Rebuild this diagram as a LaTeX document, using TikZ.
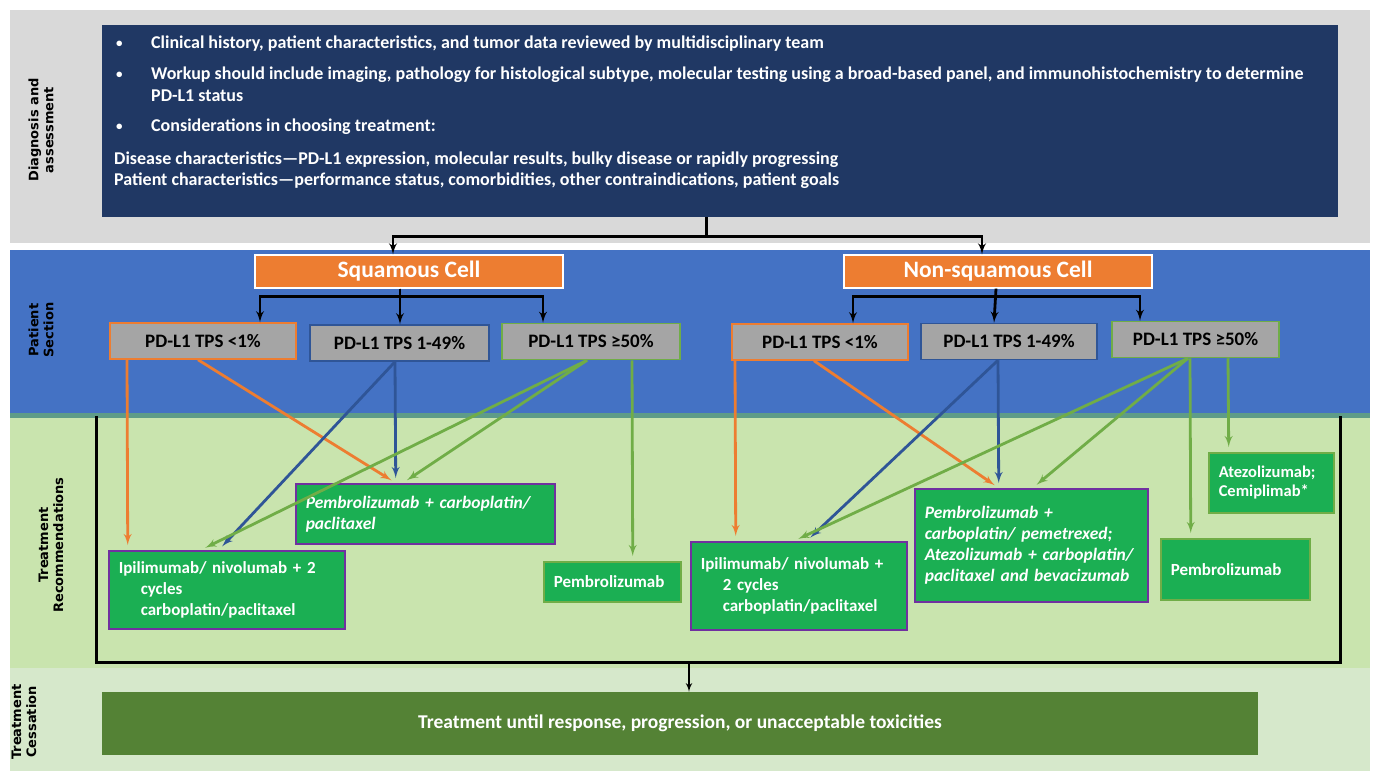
\documentclass[tikz,border=0pt]{standalone}
\usepackage{fontspec}
\setmainfont{Carlito}
\newfontfamily\bandfont{DejaVu Sans}
\usetikzlibrary{shapes,arrows,calc}
\definecolor{bandgray}{HTML}{D9D9D9}
\definecolor{navy}{HTML}{203864}
\definecolor{bandblue}{HTML}{4472C4}
\definecolor{bandline}{HTML}{5E9C88}
\definecolor{bandgreen}{HTML}{C9E4AE}
\definecolor{bandpale}{HTML}{D6E8CB}
\definecolor{cellorange}{HTML}{ED7D31}
\definecolor{tpsgray}{HTML}{A5A5A5}
\definecolor{linkblue}{HTML}{2F5597}
\definecolor{linkgreen}{HTML}{70AD47}
\definecolor{rxgreen}{HTML}{1BAF53}
\definecolor{rxpurple}{HTML}{7030A0}
\definecolor{stopgreen}{HTML}{548235}
\tikzstyle{bandlabel} = [rotate=90, align=center, text=black, font=\bandfont\bfseries\fontsize{13}{15}\selectfont]
\tikzstyle{bodytext} = [anchor=west, inner sep=0pt, text=white, font=\bfseries\fontsize{18}{21}\selectfont]
\tikzstyle{bullet} = [bodytext, font=\bfseries\fontsize{13}{15}\selectfont]
\tikzstyle{cell} = [rectangle, draw=white, line width=1.2pt, fill=cellorange, text=white, font=\bfseries\fontsize{23.5}{26}\selectfont, minimum width=308pt, minimum height=33pt]
\tikzstyle{tps} = [rectangle, draw, line width=1.5pt, fill=tpsgray, text=black, font=\bfseries\fontsize{19}{21}\selectfont, minimum height=36pt]
\tikzstyle{rx} = [rectangle, draw=rxpurple, line width=1.5pt, fill=rxgreen, text=white, font=\bfseries\fontsize{17}{21}\selectfont, align=left, inner xsep=10pt, inner ysep=0pt, anchor=north west]
\tikzstyle{rxit} = [rx, font=\bfseries\itshape\fontsize{17.5}{21}\selectfont]
\tikzstyle{tree} = [draw, line width=2.8pt, -latex']
\tikzstyle{link} = [draw, line width=2.8pt, -latex', shorten >=5pt]

\begin{document}
\begin{tikzpicture}[x=1pt, y=-1pt]
      \useasboundingbox (0,0) rectangle (1375,771);
      % bands
      \fill [bandgray] (10,10) rectangle (1370,243);
      \fill [bandblue] (10,250) rectangle (1370,415);
      \fill [bandgreen] (10,415) rectangle (1370,668);
      \fill [bandline] (10,413) rectangle (1370,418);
      \fill [bandpale] (10,668) rectangle (1370,771);
      \node [bandlabel] at (41,130) (ldiag) {Diagnosis and\\assessment};
      \node [bandlabel] at (41,330) (lpat) {Patient\\Section};
      \node [bandlabel] at (51,545) (lrec) {Treatment\\Recommendations};
      \node [bandlabel] at (24,722) (lstop) {Treatment\\Cessation};
      % diagnosis block
      \node [rectangle, fill=navy, anchor=north west, minimum width=1236pt, minimum height=192pt] at (102,25) (diag) {};
      \node [bullet] at (116,44) (b1) {\textbullet};
      \node [bullet] at (116,75) (b2) {\textbullet};
      \node [bullet] at (116,127) (b3) {\textbullet};
      \node [bodytext] at (151,44) (t1) {Clinical history, patient characteristics, and tumor data reviewed by multidisciplinary team};
      \node [bodytext] at (151,75) (t2) {Workup should include imaging, pathology for histological subtype, molecular testing using a broad-based panel, and immunohistochemistry to determine};
      \node [bodytext] at (151,96) (t3) {PD-L1 status};
      \node [bodytext] at (151,127) (t4) {Considerations in choosing treatment:};
      \node [bodytext] at (114,160) (t5) {Disease characteristics---PD-L1 expression, molecular results, bulky disease or rapidly progressing};
      \node [bodytext] at (114,181) (t6) {Patient characteristics---performance status, comorbidities, other contraindications, patient goals};
      % cell types
      \node [cell] at (409,271.5) (sq) {Squamous Cell};
      \node [cell] at (998,271.5) (nsq) {Non-squamous Cell};
      \node [tps, draw=cellorange, minimum width=186pt] at (203,341) (sl) {PD-L1 TPS <1\%};
      \node [tps, draw=linkblue, minimum width=179pt] at (399.5,343) (sm) {PD-L1 TPS 1-49\%};
      \node [tps, draw=linkgreen, minimum width=178pt] at (591,341.5) (sh) {PD-L1 TPS ≥50\%};
      \node [tps, draw=cellorange, minimum width=176pt] at (820,342) (nl) {PD-L1 TPS <1\%};
      \node [tps, draw=linkblue, minimum width=176pt] at (1009,341.5) (nm) {PD-L1 TPS 1-49\%};
      \node [tps, draw=linkgreen, minimum width=167pt] at (1195.5,339.5) (nh) {PD-L1 TPS ≥50\%};
      % treatments
      \node [rx, text width=216pt, minimum height=78pt] at (108,550) (ipis) {Ipilimumab/ nivolumab + 2\\\hspace*{22pt}cycles\\\hspace*{22pt}carboplatin/paclitaxel};
      \node [rxit, text width=239pt, minimum height=60pt] at (295,483) (pcs) {Pembrolizumab + carboplatin/\\paclitaxel};
      \node [rx, draw=linkgreen, text width=117pt, minimum height=40pt] at (543,561) (pems) {Pembrolizumab};
      \node [rx, text width=196pt, minimum height=88pt] at (690,541) (ipin) {Ipilimumab/ nivolumab +\\\hspace*{22pt}2 cycles\\\hspace*{22pt}carboplatin/paclitaxel};
      \node [rxit, text width=213pt, minimum height=113pt] at (914,488) (pcn) {Pembrolizumab +\\carboplatin/ pemetrexed;\\Atezolizumab + carboplatin/\\paclitaxel and bevacizumab};
      \node [rx, draw=linkgreen, text width=105pt, minimum height=60pt, font=\bfseries\fontsize{16.5}{19}\selectfont] at (1208,452) (atz) {Atezolizumab;\\Cemiplimab*};
      \node [rx, draw=linkgreen, text width=129pt, minimum height=61pt] at (1160,538) (pemn) {Pembrolizumab};
      \node [rectangle, fill=stopgreen, text=white, font=\bfseries\fontsize{19.5}{22}\selectfont, minimum width=1156pt, minimum height=63pt] at (680,723.5) (stop) {Treatment until response, progression, or unacceptable toxicities};
      % tree
      \path [tree] ([xshift=-14pt]diag.south) -- ++(0,19) -| ([xshift=-16pt]sq.north);
      \path [tree] ([xshift=-14pt]diag.south) -- ++(0,19) -| ([xshift=-16pt]nsq.north);
      \path [tree] ([xshift=-9pt]sq.south) -- ++(0,8) -| ([xshift=57pt]sl.north);
      \path [tree] ([xshift=-9pt]sq.south) -- ([xshift=0.5pt]sm.north);
      \path [tree] ([xshift=-9pt]sq.south) -- ++(0,8) -| ([xshift=-48pt]sh.north);
      \path [tree] ([xshift=-2pt]nsq.south) -- ++(0,8) -| ([xshift=33pt]nl.north);
      \path [tree] ([xshift=-2pt]nsq.south) -- ([xshift=-15pt]nm.north);
      \path [tree] ([xshift=-2pt]nsq.south) -- ++(0,8) -| ([xshift=-55.5pt]nh.north);
      % squamous links
      \path [link, cellorange] ([xshift=-76pt]sl.south) -- ([xshift=-99pt]ipis.north);
      \path [link, cellorange] ([xshift=-5pt]sl.south) -- ([xshift=-29.5pt]pcs.north);
      \path [link, linkblue] ([xshift=-4.5pt]sm.south) -- ([xshift=-29.5pt]pcs.north);
      \path [link, linkblue] ([xshift=-4.5pt]sm.south) -- ([xshift=-8pt]ipis.north);
      \path [link, linkgreen] ([xshift=-4pt]sh.south) -- ([xshift=-26pt]ipis.north);
      \path [link, linkgreen] ([xshift=-4pt]sh.south) -- ([xshift=-22.5pt]pcs.north);
      \path [link, linkgreen] ([xshift=41pt]sh.south) -- ([xshift=20.5pt]pems.north);
      % non-squamous links
      \path [link, cellorange] ([xshift=-85pt]nl.south) -- ([xshift=-63pt]ipin.north);
      \path [link, cellorange] ([xshift=-6pt]nl.south) -- ([xshift=-32.5pt]pcn.north);
      \path [link, linkblue] ([xshift=-11pt]nm.south) -- ([xshift=-32.5pt]pcn.north);
      \path [link, linkblue] ([xshift=-11pt]nm.south) -- ([xshift=8pt]ipin.north);
      \path [link, linkgreen] ([xshift=-7.5pt]nh.south) -- ([xshift=-5pt]ipin.north);
      \path [link, linkgreen] ([xshift=-7.5pt]nh.south) -- ([xshift=1.5pt]pcn.north);
      \path [link, linkgreen] ([xshift=-5.5pt]nh.south) -- ([xshift=-44.5pt]pemn.north);
      \path [link, linkgreen] ([xshift=32.5pt]nh.south) -- ([xshift=-42.5pt]atz.north);
      % bracket into cessation
      \draw [line width=3pt] (96,416) |- (1340,662) -- (1340,416);
      \coordinate (brk) at (689,662);
      \path [tree, line width=2pt] (brk) -- (stop.north -| brk);
    \end{tikzpicture}
\end{document}
